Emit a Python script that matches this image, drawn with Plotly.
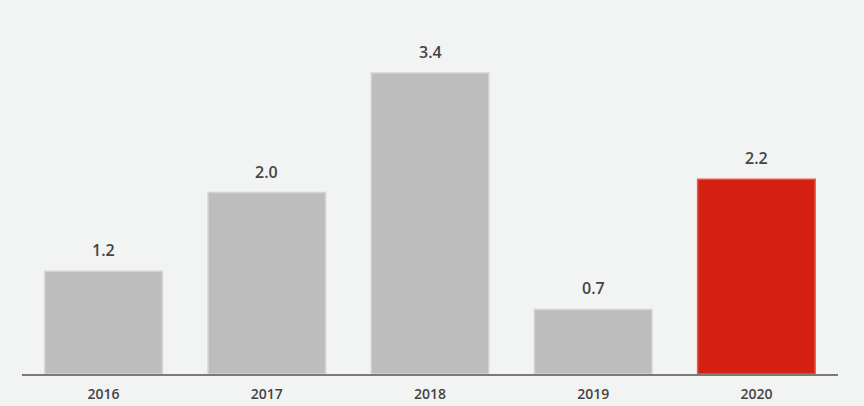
import plotly.graph_objects as go

years = ["2016", "2017", "2018", "2019", "2020"]
values = [1.16, 2.05, 3.4, 0.73, 2.2]
labels = ["1.2", "2.0", "3.4", "0.7", "2.2"]
fill_colors = ["#bdbdbd", "#bdbdbd", "#bdbdbd", "#bdbdbd", "#d42010"]
line_colors = ["#d3d3d3", "#d3d3d3", "#d3d3d3", "#d3d3d3", "#e65a4a"]

fig = go.Figure(
    go.Bar(
        x=years,
        y=values,
        marker=dict(color=fill_colors, line=dict(color=line_colors, width=1.5)),
        hoverinfo="skip",
    )
)

for i, (v, lab) in enumerate(zip(values, labels)):
    fig.add_annotation(
        x=i, y=v, text=lab, showarrow=False, yanchor="bottom", yshift=8,
        font=dict(family="Open Sans", size=16, color="#444444", weight=600),
    )

fig.update_layout(
    width=864,
    height=406,
    margin=dict(l=22, r=26, t=10, b=32, autoexpand=False),
    paper_bgcolor="#f2f3f3",
    plot_bgcolor="#f2f3f3",
    bargap=0.28,
    showlegend=False,
    font=dict(family="Open Sans", color="#444444"),
    xaxis=dict(
        type="category",
        range=[-0.5, len(years) - 0.5],
        automargin=False,
        showline=True,
        linecolor="#7a7a7a",
        linewidth=2,
        showgrid=False,
        ticks="",
        tickfont=dict(family="Open Sans", size=14, color="#444444", weight=600),
        ticklabelstandoff=6,
    ),
    yaxis=dict(
        range=[0, 4.113],
        visible=False,
        showgrid=False,
        zeroline=False,
        automargin=False,
    ),
)

fig.write_html(
    "out.html",
    config={"displayModeBar": False},
    post_script="document.body.style.margin='0';document.body.style.background='#f2f3f3';",
)
